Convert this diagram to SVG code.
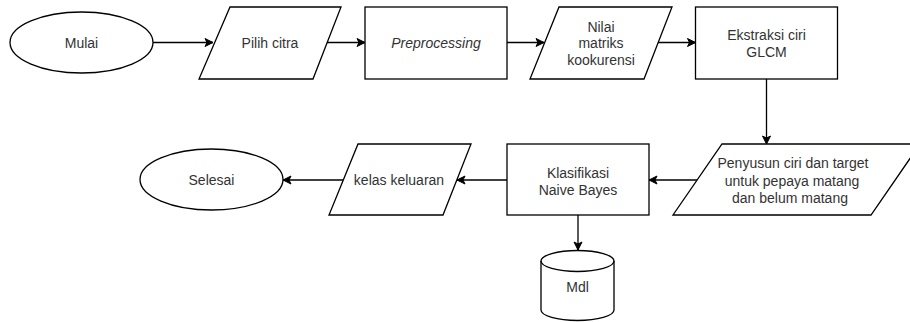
<svg xmlns="http://www.w3.org/2000/svg" width="910" height="322" viewBox="0 0 910 322">
<defs>
<style>
.s{fill:#fff;stroke:#000;stroke-width:1.3}
.t{font-family:"Liberation Sans",Arial,sans-serif;font-size:14px;fill:#333;text-anchor:middle}
.c{fill:none;stroke:#000;stroke-width:1.3}
</style>
<marker id="a" markerWidth="10" markerHeight="10" refX="9" refY="5" orient="auto" markerUnits="userSpaceOnUse">
<path d="M1,1 L9,5 L1,9 L3,5 z" fill="#000" stroke="#000" stroke-width="1"/>
</marker>
</defs>
<rect width="910" height="322" fill="#fff"/>
<g id="connectors">
<path class="c" d="M153,42.5 H213" marker-end="url(#a)"/>
<path class="c" d="M327,42.5 H365" marker-end="url(#a)"/>
<path class="c" d="M507,42.5 H544" marker-end="url(#a)"/>
<path class="c" d="M658,42.5 H695.5" marker-end="url(#a)"/>
<path class="c" d="M766.5,79 V144" marker-end="url(#a)"/>
<path class="c" d="M697,180 H649" marker-end="url(#a)"/>
<path class="c" d="M507,180 H457" marker-end="url(#a)"/>
<path class="c" d="M343,180 H283" marker-end="url(#a)"/>
<path class="c" d="M578,215 V250" marker-end="url(#a)"/>
</g>
<g id="mulai">
<ellipse class="s" cx="81.5" cy="42.5" rx="71.5" ry="30.5"/>
<text class="t" x="81.5" y="47.5">Mulai</text>
</g>
<g id="pilih-citra">
<path class="s" d="M230,7 H341 L313,79 H199 Z"/>
<text class="t" x="270" y="47.5">Pilih citra</text>
</g>
<g id="preprocessing">
<rect class="s" x="365" y="7" width="142" height="72"/>
<text class="t" x="436" y="47.5" font-style="italic">Preprocessing</text>
</g>
<g id="nilai-matriks">
<path class="s" d="M559,7 H672 L644,79 H530 Z"/>
<text class="t" x="601" y="31.5">Nilai</text>
<text class="t" x="601" y="48.3">matriks</text>
<text class="t" x="601" y="65">kookurensi</text>
</g>
<g id="ekstraksi">
<rect class="s" x="695.5" y="7" width="142" height="72"/>
<text class="t" x="766.5" y="39.5">Ekstraksi ciri</text>
<text class="t" x="766.5" y="56.5">GLCM</text>
</g>
<g id="penyusun">
<path class="s" d="M722,144 H920 L871,215 H673 Z"/>
<text class="t" x="793" y="168">Penyusun ciri dan target</text>
<text class="t" x="792" y="185.5">untuk pepaya matang</text>
<text class="t" x="790" y="202.5">dan belum matang</text>
</g>
<g id="klasifikasi">
<rect class="s" x="507" y="144" width="142" height="71"/>
<text class="t" x="578" y="177.5">Klasifikasi</text>
<text class="t" x="578" y="194.5">Naive Bayes</text>
</g>
<g id="kelas-keluaran">
<path class="s" d="M358,144 H471 L443,215 H329 Z"/>
<text class="t" x="399" y="185">kelas keluaran</text>
</g>
<g id="selesai">
<ellipse class="s" cx="211.5" cy="179.5" rx="71.5" ry="30.5"/>
<text class="t" x="211.5" y="184.5">Selesai</text>
</g>
<g id="mdl">
<path class="s" d="M541,261 A36.5,10.5 0 0 1 614,261 V310 A36.5,10.5 0 0 1 541,310 Z"/>
<path class="c" d="M541,261 A36.5,10.5 0 0 0 614,261"/>
<text class="t" x="577.5" y="291.5">Mdl</text>
</g>
</svg>
